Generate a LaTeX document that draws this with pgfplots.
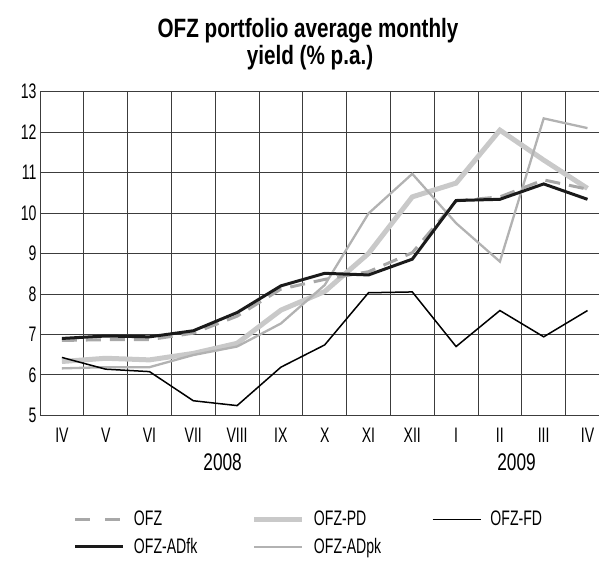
\documentclass[border=0pt]{standalone}
\usepackage{fontspec}
\setmainfont{Liberation Sans}[FakeStretch=0.67]
\newfontfamily\yearfont{Liberation Sans}[FakeStretch=0.72]
\newfontfamily\titlefont{Liberation Sans}[FakeStretch=0.78]
\usepackage{pgfplots}
\pgfplotsset{compat=1.18}
\definecolor{cOFZ}{HTML}{A8A8A8}
\definecolor{cPD}{HTML}{C9C9C9}
\definecolor{cADpk}{HTML}{B2B2B2}
\definecolor{cADfk}{HTML}{1A1A1A}
\definecolor{cgrid}{HTML}{3C3C3C}
\newcommand{\lab}{\fontsize{21bp}{25bp}\selectfont}
\begin{document}
\begin{tikzpicture}
\useasboundingbox (-40bp,-148.7bp) rectangle (559bp,415.3bp);
\begin{axis}[
  at={(0,0)}, anchor=south west,
  scale only axis, width=559bp, height=323.6bp,
  xmin=-0.5, xmax=12.263, ymin=5, ymax=13,
  axis line style={draw=none},
  xtick={0,...,12},
  xticklabels={IV,V,VI,VII,VIII,IX,X,XI,XII,I,II,III,IV},
  minor xtick={-0.5,0.5,1.5,2.5,3.5,4.5,5.5,6.5,7.5,8.5,9.5,10.5,11.5},
  ytick={5,6,...,13},
  xminorgrids, ymajorgrids, xmajorgrids=false,
  grid style={cgrid, line width=0.9bp},
  minor grid style={cgrid, line width=0.9bp},
  major tick length=0pt, minor tick length=0pt,
  tick style={draw=none},
  /pgf/number format/assume math mode=true,
  tick label style={font=\lab},
  xticklabel style={yshift=-9bp},
  clip=false,
  legend columns=3,
  legend cell align=left,
  legend image code/.code={\draw[#1] (0bp,0bp) -- (48bp,0bp);},
  legend style={draw=none, fill=none, inner sep=0pt, outer sep=0pt,
    at={(0,0)}, anchor=north west, xshift=34bp, yshift=-96bp,
    row sep=11bp,
    /tikz/every odd column/.append style={column sep=9bp},
    nodes={inner sep=0pt, font=\lab}},
]
\addlegendimage{cOFZ, line width=3bp, dash pattern=on 15bp off 15bp}
\addlegendentry{\makebox[118bp][l]{OFZ}}
\addlegendimage{cPD, line width=5bp}
\addlegendentry{\makebox[118bp][l]{OFZ-PD}}
\addlegendimage{black, line width=1.5bp}
\addlegendentry{\makebox[118bp][l]{OFZ-FD}}
\addlegendimage{cADfk, line width=3bp}
\addlegendentry{\makebox[118bp][l]{OFZ-ADfk}}
\addlegendimage{cADpk, line width=2.3bp}
\addlegendentry{\makebox[118bp][l]{OFZ-ADpk}}

% OFZ-PD
\addplot[forget plot, cPD, line width=5bp] coordinates {
(0,6.33) (1,6.41) (2,6.37) (3,6.53) (4,6.78) (5,7.60) (6,8.06)
(7,9.00) (8,10.40) (9,10.74) (10,12.05) (11,11.31) (12,10.61)};
% OFZ
\addplot[forget plot, cOFZ, line width=3bp, dash pattern=on 15bp off 9bp] coordinates {
(0,6.85) (1,6.87) (2,6.87) (3,7.03) (4,7.45) (5,8.12) (6,8.36)
(7,8.55) (8,9.02) (9,10.30) (10,10.40) (11,10.82) (12,10.59)};
% OFZ-ADpk
\addplot[forget plot, cADpk, line width=2.3bp] coordinates {
(0,6.16) (1,6.19) (2,6.19) (3,6.49) (4,6.70) (5,7.27) (6,8.22)
(7,9.99) (8,10.97) (9,9.75) (10,8.80) (11,12.34) (12,12.10)};
% OFZ-FD
\addplot[forget plot, black, line width=1.5bp] coordinates {
(0,6.43) (1,6.14) (2,6.08) (3,5.36) (4,5.24) (5,6.19) (6,6.74)
(7,8.03) (8,8.05) (9,6.70) (10,7.59) (11,6.94) (12,7.59)};
% OFZ-ADfk
\addplot[forget plot, cADfk, line width=3bp] coordinates {
(0,6.90) (1,6.96) (2,6.94) (3,7.09) (4,7.54) (5,8.20) (6,8.51)
(7,8.47) (8,8.86) (9,10.31) (10,10.34) (11,10.72) (12,10.34)};

\node[anchor=base, font=\yearfont\fontsize{24bp}{28bp}\selectfont, yshift=-55bp] at (axis cs:3.67,5) {2008};
\node[anchor=base, font=\yearfont\fontsize{24bp}{28bp}\selectfont, yshift=-55bp] at (axis cs:10.38,5) {2009};
\end{axis}
\node[anchor=base, font=\titlefont\bfseries\fontsize{26.5bp}{30bp}\selectfont] at (268bp,378bp) {OFZ portfolio average monthly};
\node[anchor=base, font=\titlefont\bfseries\fontsize{26.5bp}{30bp}\selectfont] at (270bp,350.3bp) {yield (\% p.a.)};
\end{tikzpicture}
\end{document}
